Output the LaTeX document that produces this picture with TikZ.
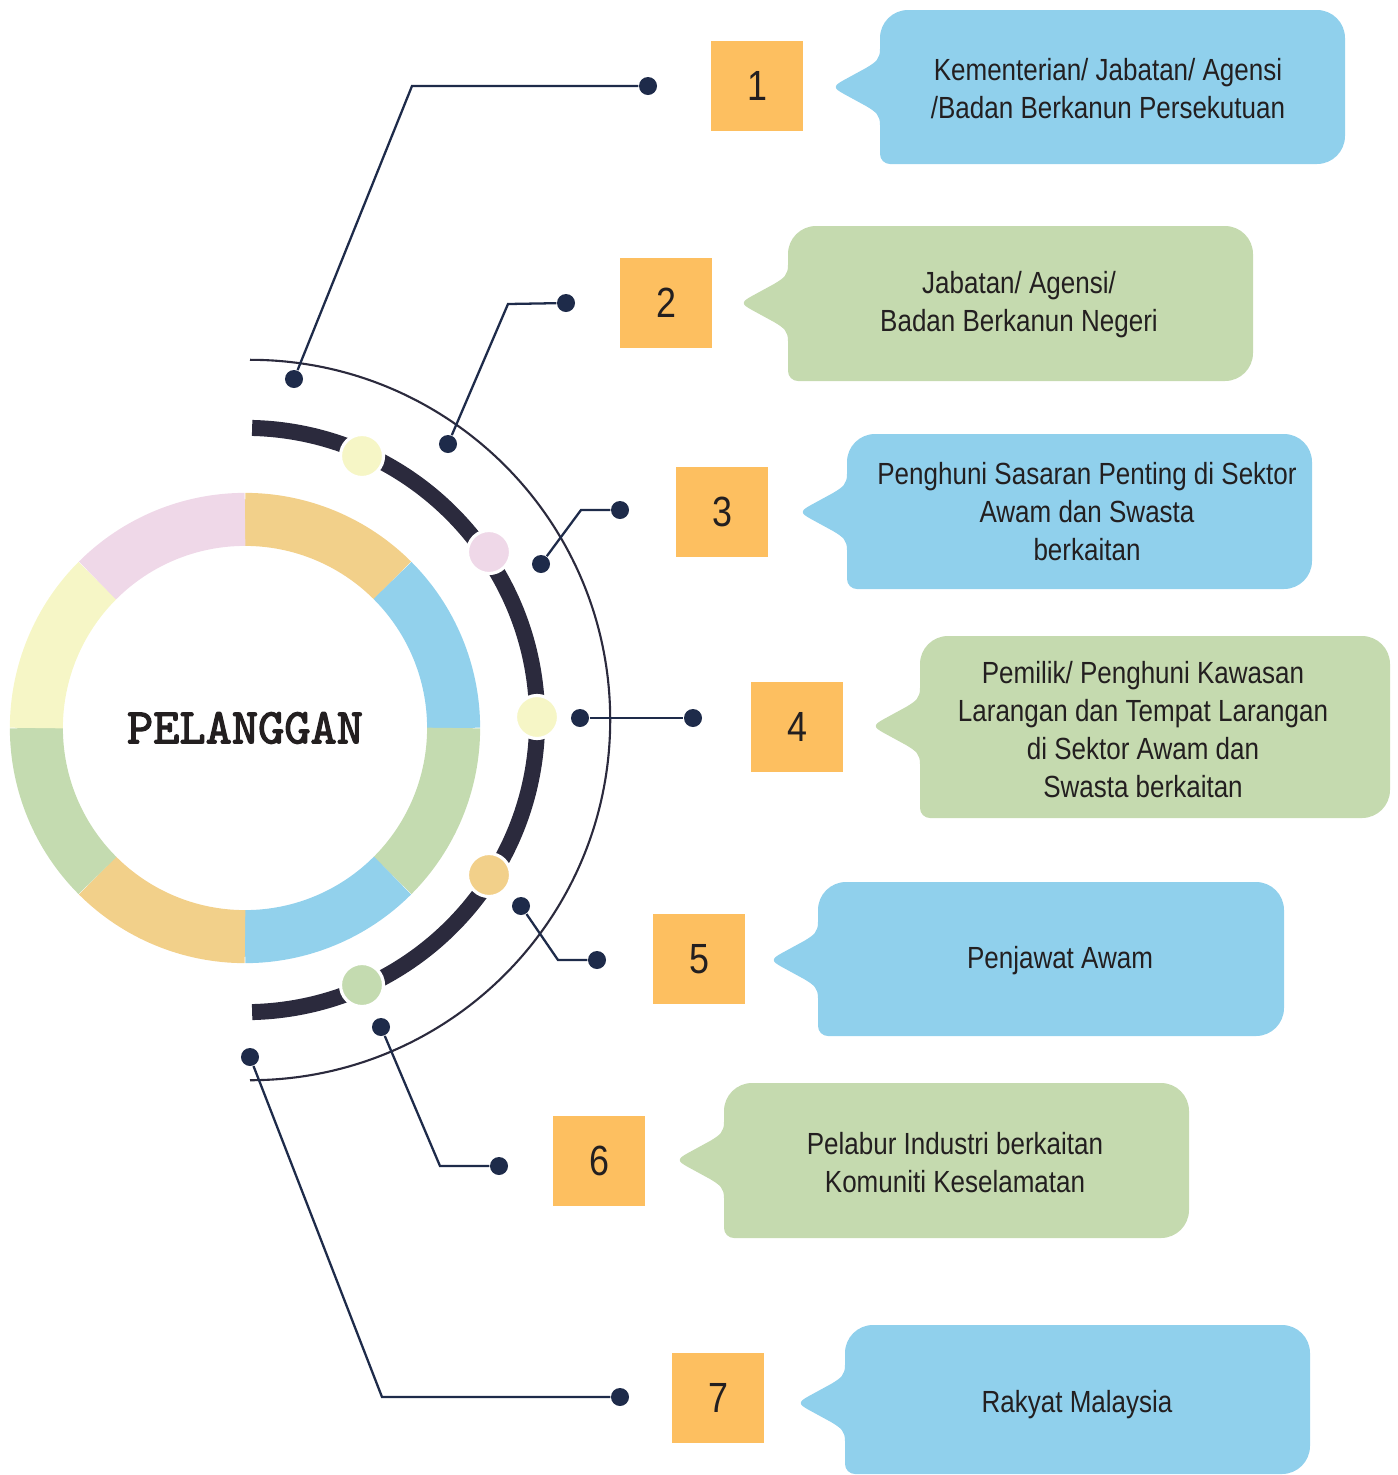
\documentclass[tikz,border=0pt]{standalone}
\usepackage{fontspec}
\setmainfont{Liberation Sans}[FakeStretch=0.85]
\newfontfamily\hubfont{lmmono10-regular.otf}[FakeBold=2.5]
\usetikzlibrary{positioning}
\definecolor{numorange}{HTML}{FDBF60}
\definecolor{bubblue}{HTML}{90D0EC}
\definecolor{bubgreen}{HTML}{C5DAAF}
\definecolor{ringorange}{HTML}{F2D08A}
\definecolor{ringblue}{HTML}{92D1EC}
\definecolor{ringgreen}{HTML}{C4DBB0}
\definecolor{ringyellow}{HTML}{F6F6C6}
\definecolor{ringpink}{HTML}{EFD8E8}
\definecolor{arcdark}{HTML}{2B2A3D}
\definecolor{dotnavy}{HTML}{1E2B4A}
\definecolor{inktext}{HTML}{231F20}
\tikzset{
  ringseg/.style={line width=0.53cm},
  knob/.style={circle, draw=white, line width=0.9pt, minimum size=0.43cm, inner sep=0pt},
  enddot/.style={circle, fill=dotnavy, minimum size=0.18cm, inner sep=0pt},
  link/.style={draw=dotnavy, line width=0.65pt},
  numbox/.style={fill=numorange, minimum width=0.91cm, minimum height=0.9cm, inner sep=0pt,
    text=inktext, font=\fontsize{12pt}{14pt}\selectfont},
  bubtext/.style={align=center, text=inktext, font=\fontsize{8.7pt}{10.8pt}\selectfont}
}
% speech bubble: x1, y1, x2, y2, tip y, colour
\newcommand{\bubble}[6]{%
  \fill[#6] (#1,#5-38) [rounded corners=0.28cm] -- (#1,#2) -- (#3,#2) -- (#3,#4)
    [rounded corners=0.1cm] -- (#1,#4) [sharp corners] -- (#1,#5+38)
    .. controls (#1,#5+28) and (#1-4,#5+25) .. (#1-14,#5+19) -- (#1-36,#5+7)
    .. controls (#1-47,#5+1) and (#1-47,#5-1) .. (#1-36,#5-7) -- (#1-14,#5-19)
    .. controls (#1-4,#5-25) and (#1,#5-28) .. (#1,#5-38) -- cycle;}

\begin{document}
\begin{tikzpicture}[x=0.01cm, y=-0.01cm]
\useasboundingbox (0,0) rectangle (1398,1475);
% ring
\draw[ringseg, ringorange] (245,728) ++(90:2.085cm) arc[start angle=90, end angle=45, radius=2.085cm];
\draw[ringseg, ringblue] (245,728) ++(45:2.085cm) arc[start angle=45, end angle=0, radius=2.085cm];
\draw[ringseg, ringgreen] (245,728) ++(0:2.085cm) arc[start angle=0, end angle=-45, radius=2.085cm];
\draw[ringseg, ringblue] (245,728) ++(-45:2.085cm) arc[start angle=-45, end angle=-90, radius=2.085cm];
\draw[ringseg, ringorange] (245,728) ++(-90:2.085cm) arc[start angle=-90, end angle=-135, radius=2.085cm];
\draw[ringseg, ringgreen] (245,728) ++(-135:2.085cm) arc[start angle=-135, end angle=-180, radius=2.085cm];
\draw[ringseg, ringyellow] (245,728) ++(180:2.085cm) arc[start angle=180, end angle=135, radius=2.085cm];
\draw[ringseg, ringpink] (245,728) ++(135:2.085cm) arc[start angle=135, end angle=90, radius=2.085cm];
\node[text=inktext, font=\hubfont\fontsize{14.2pt}{16pt}\selectfont] (hub) at (245,728) {PELANGGAN};
% arcs
\draw[line width=0.16cm, arcdark] (245,720) ++(88.6:2.92cm) arc[start angle=88.6, end angle=-88.6, radius=2.92cm];
\draw[line width=0.6pt, arcdark] (250,720) ++(90:3.6cm) arc[start angle=90, end angle=-90, radius=3.6cm];
\node[knob, fill=ringyellow] (m1) at (362,456) {};
\node[knob, fill=ringpink] (m2) at (489,552) {};
\node[knob, fill=ringyellow] (m3) at (537,717) {};
\node[knob, fill=ringorange] (m4) at (489,875) {};
\node[knob, fill=ringgreen] (m5) at (362,985) {};
% connectors
\node[enddot] (p1) at (294,379) {};
\node[enddot] (q1) at (648,86) {};
\coordinate (k1) at (412,86);
\draw[link] (p1) -- (k1) -- (q1);
\node[enddot] (p2) at (448,444) {};
\node[enddot] (q2) at (566,303) {};
\coordinate (k2) at (508,304);
\draw[link] (p2) -- (k2) -- (q2);
\node[enddot] (p3) at (541,564) {};
\node[enddot] (q3) at (620,510) {};
\coordinate (k3) at (581,510);
\draw[link] (p3) -- (k3) -- (q3);
\node[enddot] (p4) at (580,718) {};
\node[enddot] (q4) at (693,718) {};
\draw[link] (p4) -- (q4);
\node[enddot] (p5) at (521,906) {};
\node[enddot] (q5) at (597,960) {};
\coordinate (k5) at (558,960);
\draw[link] (p5) -- (k5) -- (q5);
\node[enddot] (p6) at (381,1027) {};
\node[enddot] (q6) at (499,1166) {};
\coordinate (k6) at (440,1166);
\draw[link] (p6) -- (k6) -- (q6);
\node[enddot] (p7) at (250,1057) {};
\node[enddot] (q7) at (620,1397) {};
\coordinate (k7) at (382,1397);
\draw[link] (p7) -- (k7) -- (q7);
% numbers
\node[numbox] (n1) at (757,86) {1};
\node[numbox] (n2) at (666,303) {2};
\node[numbox] (n3) at (722,512) {3};
\node[numbox] (n4) at (797,727) {4};
\node[numbox] (n5) at (699,959) {5};
\node[numbox] (n6) at (599,1161) {6};
\node[numbox] (n7) at (718,1398) {7};
% bubbles
\bubble{880}{10}{1345}{164}{87}{bubblue}
\node[bubtext] (t1) at (1108,89) {Kementerian/ Jabatan/ Agensi\\/Badan Berkanun Persekutuan};
\bubble{788}{226}{1253}{381}{303}{bubgreen}
\node[bubtext] (t2) at (1019,305) {Jabatan/ Agensi/\\Badan Berkanun Negeri};
\bubble{847}{434}{1312}{589}{512}{bubblue}
\node[bubtext] (t3) at (1087,512) {Penghuni Sasaran Penting di Sektor\\Awam dan Swasta\\berkaitan};
\bubble{920}{636}{1390}{818}{726}{bubgreen}
\node[bubtext] (t4) at (1143,730) {Pemilik/ Penghuni Kawasan\\Larangan dan Tempat Larangan\\di Sektor Awam dan\\Swasta berkaitan};
\bubble{818}{882}{1284}{1036}{960}{bubblue}
\node[bubtext] (t5) at (1060,961) {Penjawat Awam};
\bubble{724}{1083}{1189}{1238}{1160}{bubgreen}
\node[bubtext] (t6) at (955,1163) {Pelabur Industri berkaitan\\Komuniti Keselamatan};
\bubble{845}{1325}{1310}{1474}{1403}{bubblue}
\node[bubtext] (t7) at (1077,1405) {Rakyat Malaysia};
\end{tikzpicture}
\end{document}
